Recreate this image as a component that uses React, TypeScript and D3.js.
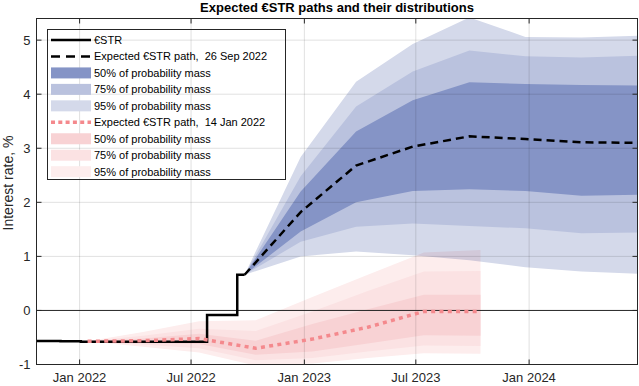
import React from "react";
import * as d3 from "d3";

const parse = d3.timeParse("%Y-%m-%d");

// realised €STR (step series)
const estrDates = ["2021-10-23", "2021-12-01", "2022-01-03", "2022-07-27", "2022-09-14", "2022-09-26"];
const estrValues = [-0.566, -0.57, -0.578, -0.085, 0.658, 0.658];

// expected path, 26 Sep 2022
const sepDates = ["2022-09-26", "2022-12-26", "2023-03-26", "2023-06-26", "2023-09-26", "2023-12-26", "2024-03-26", "2024-06-26"];
const sepMedian = [0.66, 1.82, 2.68, 3.03, 3.22, 3.17, 3.11, 3.1];
const sepUp50 = [0.66, 2.2, 3.31, 3.89, 4.22, 4.19, 4.17, 4.16];
const sepUp75 = [0.66, 2.48, 3.77, 4.42, 4.81, 4.7, 4.68, 4.71];
const sepUp95 = [0.66, 2.84, 4.23, 4.93, 5.42, 5.06, 5.05, 5.08];
const sepLo50 = [0.66, 1.46, 2.0, 2.21, 2.24, 2.21, 2.12, 2.14];
const sepLo75 = [0.66, 1.27, 1.55, 1.61, 1.56, 1.52, 1.43, 1.44];
const sepLo95 = [0.66, 1.0, 1.09, 1.02, 0.93, 0.8, 0.72, 0.68];

// expected path, 14 Jan 2022
const janDates = ["2022-01-14", "2022-04-14", "2022-07-14", "2022-10-14", "2023-01-14", "2023-04-14", "2023-07-14", "2023-10-14"];
const janMedian = [-0.57, -0.56, -0.52, -0.7, -0.53, -0.31, -0.02, -0.02];
const janUp50 = [-0.57, -0.52, -0.43, -0.56, -0.25, 0.02, 0.29, 0.29];
const janUp75 = [-0.57, -0.47, -0.34, -0.38, -0.02, 0.36, 0.72, 0.73];
const janUp95 = [-0.57, -0.4, -0.2, -0.18, 0.25, 0.66, 1.07, 1.12];
const janLo50 = [-0.57, -0.6, -0.62, -0.82, -0.76, -0.61, -0.46, -0.47];
const janLo75 = [-0.57, -0.63, -0.7, -0.92, -0.88, -0.76, -0.65, -0.66];
const janLo95 = [-0.57, -0.67, -0.78, -1.02, -0.98, -0.88, -0.79, -0.8];

const yTicks = [-1, 0, 1, 2, 3, 4, 5];
const xTicks = ["2022-01-01", "2022-07-01", "2023-01-01", "2023-07-01", "2024-01-01"];
const legendLabels = [
  "€STR",
  "Expected €STR path,  26 Sep 2022",
  "50% of probability mass",
  "75% of probability mass",
  "95% of probability mass",
  "Expected €STR path,  14 Jan 2022",
  "50% of probability mass",
  "75% of probability mass",
  "95% of probability mass",
];

const W = 639;
const H = 386;
const L = 36.5, R = 637.5, T = 18.5, B = 364.5;
const font = "'Liberation Sans', Arial, Helvetica, sans-serif";
const ink = "#262626";
const blue = ["#8594c6", "#bac2de", "#d4d9ea"];
const pink = ["#f8d2d4", "#fbe2e3", "#fdeded"];
const pinkLine = "#f4898d";

export default function App() {
  const x = d3.scaleTime().domain([parse("2021-10-23")!, parse("2024-06-25")!]).range([L, R]);
  const y = d3.scaleLinear().domain([-1, 5.4]).range([B, T]);

  const band = (dates: string[], lo: number[], hi: number[]) =>
    d3.area<number>()
      .x((_, i) => x(parse(dates[i])!))
      .y0((_, i) => y(lo[i]))
      .y1((d) => y(d))(hi) || "";
  const path = (dates: string[], vals: number[], curve = d3.curveLinear) =>
    d3.line<number>()
      .x((_, i) => x(parse(dates[i])!))
      .y((d) => y(d))
      .curve(curve)(vals) || "";

  const rowY = (i: number) => 40 + i * 16.46;
  const lx0 = 51, lx1 = 91;

  return (
    <div style={{ position: "fixed", left: 0, top: 0 }}>
      <svg width={W} height={H} style={{ display: "block", fontFamily: font }}>
        <defs>
          <clipPath id="plot">
            <rect x={L} y={T} width={R - L} height={B - T} />
          </clipPath>
        </defs>
        <rect width={W} height={H} fill="#fff" />
        <g clipPath="url(#plot)">
          {/* Sep 2022 fan */}
          <path d={band(sepDates, sepLo95, sepUp95)} fill={blue[2]} />
          <path d={band(sepDates, sepLo75, sepUp75)} fill={blue[1]} />
          <path d={band(sepDates, sepLo50, sepUp50)} fill={blue[0]} />
          {/* Jan 2022 fan */}
          <g style={{ mixBlendMode: "multiply" }}>
            <path d={band(janDates, janLo95, janUp95)} fill={pink[2]} />
            <path d={band(janDates, janLo75, janUp75)} fill={pink[1]} />
            <path d={band(janDates, janLo50, janUp50)} fill={pink[0]} />
          </g>
          {/* grid */}
          {yTicks.map((t) => (
            <line key={"gy" + t} x1={L} x2={R} y1={y(t)} y2={y(t)} stroke="#000" strokeOpacity={0.12} />
          ))}
          {xTicks.map((t) => (
            <line key={"gx" + t} x1={x(parse(t)!)} x2={x(parse(t)!)} y1={T} y2={B} stroke="#000" strokeOpacity={0.12} />
          ))}
          <line x1={L} x2={R} y1={y(0)} y2={y(0)} stroke={ink} strokeWidth={1} />
          <path d={path(estrDates, estrValues, d3.curveStepAfter)} fill="none" stroke="#000" strokeWidth={2.5} />
          <path d={path(janDates, janMedian)} fill="none" stroke={pinkLine} strokeWidth={3.5} strokeDasharray="4 4.3" />
          <path d={path(sepDates, sepMedian)} fill="none" stroke="#000" strokeWidth={2.5} strokeDasharray="8 5" />
        </g>

        {/* axes box and ticks */}
        <rect x={L} y={T} width={R - L} height={B - T} fill="none" stroke={ink} strokeWidth={1} />
        {yTicks.map((t) => (
          <g key={"ty" + t}>
            <line x1={L} x2={L + 5} y1={y(t)} y2={y(t)} stroke={ink} />
            <line x1={R - 5} x2={R} y1={y(t)} y2={y(t)} stroke={ink} />
            <text x={L - 6} y={y(t)} dy="0.35em" textAnchor="end" fontSize={13} fill={ink}>
              {t}
            </text>
          </g>
        ))}
        {xTicks.map((t) => (
          <g key={"tx" + t}>
            <line x1={x(parse(t)!)} x2={x(parse(t)!)} y1={B} y2={B - 5} stroke={ink} />
            <line x1={x(parse(t)!)} x2={x(parse(t)!)} y1={T} y2={T + 5} stroke={ink} />
            <text x={x(parse(t)!)} y={382} textAnchor="middle" fontSize={13} fill={ink}>
              {d3.timeFormat("%b %Y")(parse(t)!)}
            </text>
          </g>
        ))}

        <text x={337} y={12} textAnchor="middle" fontSize={13} fontWeight="bold" fill="#000">
          Expected €STR paths and their distributions
        </text>
        <text transform={`translate(13,183) rotate(-90)`} textAnchor="middle" fontSize={14} fill={ink}>
          Interest rate, %
        </text>

        {/* legend */}
        <rect x={47.5} y={29.5} width={238} height={150} fill="none" stroke={ink} strokeWidth={1} />
        {legendLabels.map((lab, i) => {
          const cy = rowY(i);
          let sample: React.ReactNode = null;
          if (i === 0) sample = <line x1={lx0} x2={lx1} y1={cy} y2={cy} stroke="#000" strokeWidth={2.5} />;
          else if (i === 1)
            sample = <line x1={lx0} x2={lx1} y1={cy} y2={cy} stroke="#000" strokeWidth={2.5} strokeDasharray="9 6" />;
          else if (i === 5)
            sample = <line x1={lx0} x2={lx1} y1={cy} y2={cy} stroke={pinkLine} strokeWidth={3.5} strokeDasharray="4 3.3" />;
          else {
            const c = i < 5 ? blue[i - 2] : pink[i - 6];
            sample = <rect x={lx0} y={cy - 5.5} width={lx1 - lx0} height={11} fill={c} />;
          }
          return (
            <g key={"lg" + i}>
              {sample}
              <text x={94} y={cy} dy="0.35em" fontSize={11} fill="#000" style={{ whiteSpace: "pre" }}>
                {lab}
              </text>
            </g>
          );
        })}
      </svg>
    </div>
  );
}
